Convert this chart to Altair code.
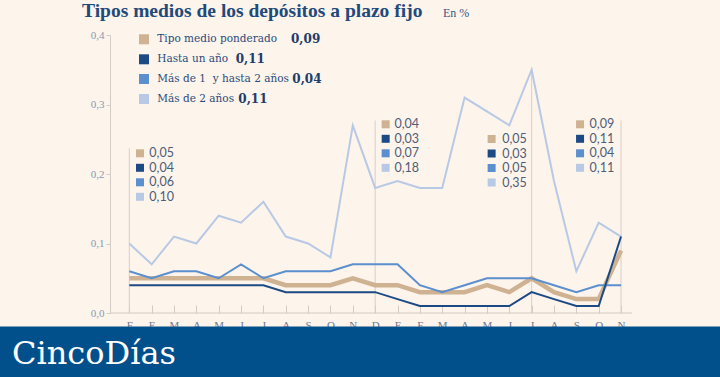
import altair as alt
import pandas as pd

# ---------------- data ----------------
months = ["F", "E", "M", "A", "M", "J", "J", "A", "S", "O", "N", "D",
          "E", "F", "M", "A", "M", "J", "J", "A", "S", "O", "N"]
series_names = ["Tipo medio ponderado", "Hasta un año",
                "Más de 1\u00a0 y hasta 2 años", "Más de 2 años"]
tipo_medio = [0.05, 0.05, 0.05, 0.05, 0.05, 0.05, 0.05, 0.04, 0.04, 0.04, 0.05, 0.04,
              0.04, 0.03, 0.03, 0.03, 0.04, 0.03, 0.05, 0.03, 0.02, 0.02, 0.09]
hasta_un_ano = [0.04, 0.04, 0.04, 0.04, 0.04, 0.04, 0.04, 0.03, 0.03, 0.03, 0.03, 0.03,
                0.02, 0.01, 0.01, 0.01, 0.01, 0.01, 0.03, 0.02, 0.01, 0.01, 0.11]
de_1_a_2 = [0.06, 0.05, 0.06, 0.06, 0.05, 0.07, 0.05, 0.06, 0.06, 0.06, 0.07, 0.07,
            0.07, 0.04, 0.03, 0.04, 0.05, 0.05, 0.05, 0.04, 0.03, 0.04, 0.04]
mas_de_2 = [0.10, 0.07, 0.11, 0.10, 0.14, 0.13, 0.16, 0.11, 0.10, 0.08, 0.27, 0.18,
            0.19, 0.18, 0.18, 0.31, 0.29, 0.27, 0.35, 0.19, 0.06, 0.13, 0.11]
annot_idx = [0, 11, 18, 22]
annot_top = [0.237, 0.277, 0.35, 0.277]
y_ticks = [0, 0.1, 0.2, 0.3, 0.4]

# ---------------- styles / layout ----------------
series_colors = ["#cfb292", "#1c4a85", "#5b8fce", "#b8c9e6"]
series_widths = [4.5, 2, 2, 2]
BG = "#fdf4eb"
AXIS_C = "#d3cbc6"
PLOT_W, PLOT_H = 522, 278
LEFT, TOP = 110, 35
Y_MAX = 0.4

xscale = alt.Scale(domain=[-0.8635, 22.49], nice=False, zero=False)
yscale = alt.Scale(domain=[0, Y_MAX], nice=False, zero=False)

month_expr = "[" + ",".join(f"'{m}'" for m in months) + "][datum.value]"
xaxis = alt.Axis(
    values=list(range(len(months))), labelExpr=month_expr, domain=False,
    tickSize=8, offset=-8, tickColor=AXIS_C, labelFont="Liberation Serif",
    labelFontSize=11, labelColor="#6d7b93", labelPadding=6, title=None,
    grid=False, labelFlush=False, labelOverlap=False)
yaxis = alt.Axis(
    values=y_ticks, labelExpr="replace(format(datum.value,'.1f'),'.',',')",
    domainColor=AXIS_C, tickColor=AXIS_C, tickSize=4, labelPadding=2,
    labelFont="Liberation Serif", labelFontSize=11, labelColor="#8a99b3",
    title=None, grid=False)


def X(field):
    return alt.X(field, scale=xscale, axis=xaxis)


def Y(field):
    return alt.Y(field, scale=yscale, axis=yaxis)


def px_to_y(py):
    # pixel row (page coords) -> value on the y scale
    return Y_MAX * (1 - (py - TOP) / PLOT_H)


all_values = [tipo_medio, hasta_un_ano, de_1_a_2, mas_de_2]
rows = []
for name, vals in zip(series_names, all_values):
    for i, v in enumerate(vals):
        rows.append({"idx": i, "serie": name, "valor": v})
df = pd.DataFrame(rows)


def fmt(v):
    return f"{v:.2f}".replace(".", ",")


# baseline
base = alt.Chart(pd.DataFrame({"y": [0.0]})).mark_rule(
    color=AXIS_C, strokeWidth=1).encode(y=Y("y:Q"))

# vertical annotation rules
df_vr = pd.DataFrame({"idx": annot_idx, "top": annot_top, "zero": [0.0] * 4})
vrules = alt.Chart(df_vr).mark_rule(color="#d8cfca", strokeWidth=1).encode(
    x=X("idx:Q"), y=Y("top:Q"), y2="zero:Q")

# lines
line_layers = []
for k in [3, 0, 2, 1]:
    line_layers.append(
        alt.Chart(df).transform_filter(alt.datum.serie == series_names[k]).mark_line(
            color=series_colors[k], strokeWidth=series_widths[k]
        ).encode(x=X("idx:Q"), y=Y("valor:Q"))
    )

# top legend (pixel-positioned rows)
leg_y = [39.3, 59.3, 79.0, 99.0]
leg_num_x = [291, 235.7, 292.3, 238.3]
legend_layers = []
for k in range(4):
    one = pd.DataFrame({"name": [series_names[k]], "num": [fmt(all_values[k][-1])]})
    yv = alt.value(leg_y[k] - TOP)
    legend_layers.append(alt.Chart(one).mark_square(
        size=100, opacity=1, color=series_colors[k]).encode(
        x=alt.value(144 - LEFT), y=yv))
    legend_layers.append(alt.Chart(one).mark_text(
        align="left", baseline="middle", font="DejaVu Serif", fontSize=10.5,
        color="#2b4b7b").encode(x=alt.value(157.3 - LEFT), y=yv, text="name:N"))
    legend_layers.append(alt.Chart(one).mark_text(
        align="left", baseline="middle", font="DejaVu Serif", fontSize=12,
        fontWeight="bold", color="#1e3d6b").encode(
        x=alt.value(leg_num_x[k] - LEFT), y=yv, text="num:N"))

# annotations
annot_row0 = [153.3, 124.3, 139.0, 124.3]
annot_sq_dx = [10.7, 10.5, -40, -41]
annot_tx_dx = [20, 19.3, -29.5, -31.5]
annot_layers = []
for a, i in enumerate(annot_idx):
    d = pd.DataFrame({
        "idx": [i] * 4,
        "y": [px_to_y(annot_row0[a] + r * 14.5) for r in range(4)],
        "label": [fmt(v[i]) for v in all_values],
        "color": series_colors,
    })
    annot_layers.append(alt.Chart(d).mark_square(
        size=64, opacity=1, xOffset=annot_sq_dx[a]).encode(
        x=X("idx:Q"), y=Y("y:Q"), color=alt.Color("color:N", scale=None)))
    annot_layers.append(alt.Chart(d).mark_text(
        align="left", baseline="middle", font="Lato", fontSize=12.5,
        color="#4f5d77", xOffset=annot_tx_dx[a]).encode(
        x=X("idx:Q"), y=Y("y:Q"), text="label:N"))

# title
title = alt.Chart(pd.DataFrame({"t": ["Tipos medios de los depósitos a plazo fijo"]})).mark_text(
    align="left", baseline="alphabetic", font="Liberation Serif", fontSize=19.5,
    fontWeight="bold", color="#1f4a7c").encode(
    x=alt.value(82 - LEFT), y=alt.value(17 - TOP), text="t:N")
subtitle = alt.Chart(pd.DataFrame({"t": ["En %"]})).mark_text(
    align="left", baseline="alphabetic", font="Liberation Serif", fontSize=12,
    color="#3d5a85").encode(
    x=alt.value(443 - LEFT), y=alt.value(17 - TOP), text="t:N")

# banner
banner = alt.Chart(pd.DataFrame({"a": [0]})).mark_rect(color="#02508b").encode(
    x=alt.value(-LEFT), x2=alt.value(720 - LEFT),
    y=alt.value(326.5 - TOP), y2=alt.value(377 - TOP))
brand = alt.Chart(pd.DataFrame({"t": ["CincoDías"]})).mark_text(
    align="left", baseline="alphabetic", font="DejaVu Serif", fontSize=32,
    color="white").encode(
    x=alt.value(12 - LEFT), y=alt.value(364 - TOP), text="t:N")

chart = alt.layer(
    base, vrules, *line_layers, *legend_layers, *annot_layers,
    title, subtitle, banner, brand
).properties(
    width=PLOT_W, height=PLOT_H, background=BG,
    padding={"left": LEFT, "top": TOP, "right": 720 - LEFT - PLOT_W,
             "bottom": 377 - TOP - PLOT_H},
    autosize=alt.AutoSizeParams(type="none"),
).configure_view(stroke=None).configure_axis(grid=False)

chart.save("out.html", embed_options={"renderer": "svg", "actions": False})
